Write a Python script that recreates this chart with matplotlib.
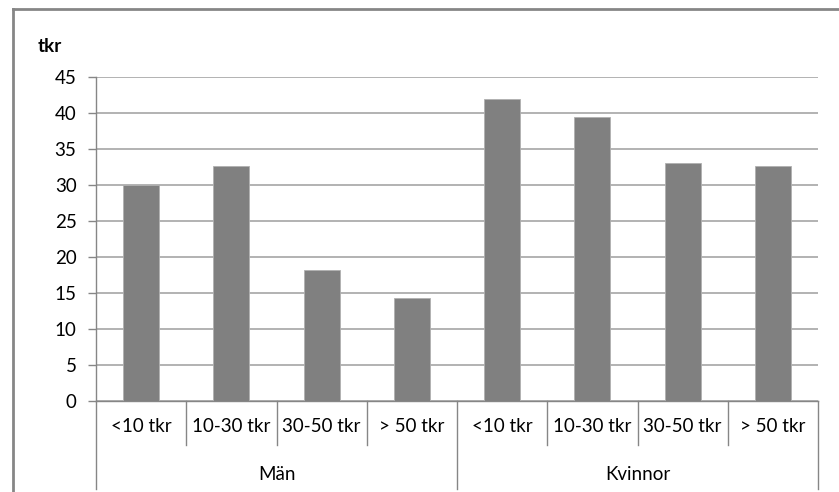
import numpy as np
import matplotlib.pyplot as plt
from matplotlib.transforms import blended_transform_factory

# data
groups = ['Män', 'Kvinnor']
brackets = ['<10 tkr', '10-30 tkr', '30-50 tkr', '> 50 tkr']
values_man = [30.0, 32.6, 18.2, 14.3]
values_kvinnor = [42.0, 39.4, 33.1, 32.6]

W, H = 839, 492
fig = plt.figure(figsize=(W / 100, H / 100), dpi=100)
plt.rcParams['font.family'] = ['Lato', 'DejaVu Sans']
fs = 13.5

# plot area in pixels
left, right, bottom, top = 96, 818, 401, 77
ax = fig.add_axes([left / W, (H - bottom) / H, (right - left) / W, (bottom - top) / H])

values = values_man + values_kvinnor
x_pos = np.arange(len(values))
ax.bar(x_pos, values, width=0.4, color='#808080', edgecolor='#b0b0b0', linewidth=0.6, zorder=3)

ax.set_xlim(-0.5, len(values) - 0.5)
ax.set_ylim(0, 45)
ax.set_yticks(np.arange(0, 50, 5))
ax.yaxis.grid(True, color='#a6a6a6', linewidth=1.2)
ax.set_axisbelow(True)
ax.tick_params(axis='y', length=6, width=1, color='#868686', labelsize=fs, pad=8)
ax.tick_params(axis='x', length=0, labelbottom=False)
for s in ['top', 'right']:
    ax.spines[s].set_visible(False)
for s in ['left', 'bottom']:
    ax.spines[s].set_color('#868686')
    ax.spines[s].set_linewidth(1)

# category axis: separators and labels below the plot
trans = blended_transform_factory(ax.transData, fig.transFigure)
y_axis = (H - bottom) / H
y_sub = (H - 445) / H
y_end = (H - 489) / H
for i in range(len(values) + 1):
    xb = i - 0.5
    y_low = y_end if i % len(brackets) == 0 else y_sub
    ax.plot([xb, xb], [y_axis, y_low], transform=trans, color='#868686',
            linewidth=1, clip_on=False)

labels = brackets * len(groups)
for xi, lab in zip(x_pos, labels):
    fig.text(xi, (H - 426) / H, lab, transform=trans, ha='center', va='center', fontsize=fs)
for gi, g in enumerate(groups):
    xc = gi * len(brackets) + (len(brackets) - 1) / 2
    fig.text(xc, (H - 474) / H, g, transform=trans, ha='center', va='center', fontsize=fs)

# axis unit
fig.text(38 / W, (H - 46) / H, 'tkr', fontsize=fs, fontweight='bold', ha='left', va='center')

# chart frame
fig.add_artist(plt.Line2D([13 / W, 13 / W], [0, (H - 9) / H], transform=fig.transFigure,
                          color='#868686', linewidth=2))
fig.add_artist(plt.Line2D([13 / W, 1], [(H - 9) / H, (H - 9) / H], transform=fig.transFigure,
                          color='#868686', linewidth=2))

fig.savefig('out.png', dpi=100)
